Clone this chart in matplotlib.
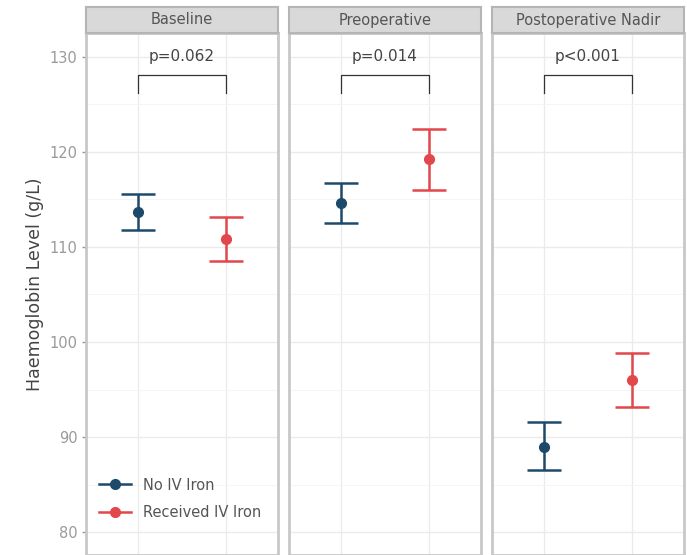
import matplotlib
matplotlib.use('Agg')
import matplotlib.pyplot as plt
from matplotlib.lines import Line2D
import numpy as np

# Haemoglobin (g/L): mean with 95% CI by timepoint and IV iron group
timepoints = ['Baseline', 'Preoperative', 'Postoperative Nadir']
groups = ['No IV Iron', 'Received IV Iron']
colors = ['#1d4a6b', '#e2474b']

means = {'No IV Iron':       [113.7, 114.6, 89.0],
         'Received IV Iron': [110.8, 119.2, 96.0]}
lower = {'No IV Iron':       [111.8, 112.5, 86.5],
         'Received IV Iron': [108.5, 116.0, 93.2]}
upper = {'No IV Iron':       [115.6, 116.7, 91.6],
         'Received IV Iron': [113.2, 122.4, 98.8]}
p_labels = ['p=0.062', 'p=0.014', 'p<0.001']
bracket_top, bracket_bottom, p_y = 128.1, 126.2, 130.0

W, H = 687, 555
fig = plt.figure(figsize=(W / 100, H / 100), dpi=100)

lefts = [86, 289, 492]
pw = 192
ptop, pbot = 33, 555
ylim = (77.6, 132.5)
grey = '#c8c8c8'

axes = []
for i, tp in enumerate(timepoints):
    ax = fig.add_axes([lefts[i] / W, 1 - pbot / H, pw / W, (pbot - ptop) / H])
    ax.set_xlim(0.4, 2.6)
    ax.set_ylim(*ylim)
    ax.set_yticks([80, 90, 100, 110, 120, 130])
    ax.set_yticks([85, 95, 105, 115, 125], minor=True)
    ax.set_xticks([1, 2])
    ax.grid(which='major', color='#ebebeb', linewidth=1.0)
    ax.grid(which='minor', axis='y', color='#f4f4f4', linewidth=0.6)
    ax.set_axisbelow(True)
    ax.tick_params(axis='x', length=0, labelbottom=False)
    ax.tick_params(axis='y', which='minor', length=0)
    for s in ax.spines.values():
        s.set_color(grey)
        s.set_linewidth(2.0)
    if i == 0:
        ax.tick_params(axis='y', which='major', length=3, width=1, color='#999999',
                       labelcolor='#9a9a9a', labelsize=10.5, pad=3)
    else:
        ax.tick_params(axis='y', length=0, labelleft=False)

    for g, (grp, col) in enumerate(zip(groups, colors)):
        x = g + 1
        m, lo, hi = means[grp][i], lower[grp][i], upper[grp][i]
        ax.errorbar(x, m, yerr=[[m - lo], [hi - m]], fmt='o', color=col, ms=7,
                    elinewidth=1.8, capsize=12.5, capthick=1.8)

    # significance bracket
    ax.plot([1, 1, 2, 2], [bracket_bottom, bracket_top, bracket_top, bracket_bottom],
            color='#333333', linewidth=0.9)
    ax.text(1.5, p_y, p_labels[i], ha='center', va='center', fontsize=11, color='#444444')

    # strip header
    sax = fig.add_axes([lefts[i] / W, 1 - ptop / H, pw / W, 26 / H])
    sax.set_xticks([])
    sax.set_yticks([])
    sax.set_facecolor('#d9d9d9')
    for s in sax.spines.values():
        s.set_color('#b5b5b5')
        s.set_linewidth(1.5)
    sax.text(0.5, 0.5, tp, ha='center', va='center', fontsize=10.5, color='#555555',
             transform=sax.transAxes)
    axes.append(ax)

fig.text(35 / W, 1 - 284 / H, 'Haemoglobin Level (g/L)', rotation=90, ha='center',
         va='center', fontsize=12.5, color='#444444')

handles = [Line2D([0], [0], color=c, marker='o', ms=7, linewidth=1.8) for c in colors]
axes[0].legend(handles, groups, loc='lower left', bbox_to_anchor=(0.0, 0.042),
               frameon=False, fontsize=10.5, handlelength=2.2, labelspacing=0.85,
               handletextpad=0.8, labelcolor='#555555')

fig.savefig('out.png', dpi=100)
